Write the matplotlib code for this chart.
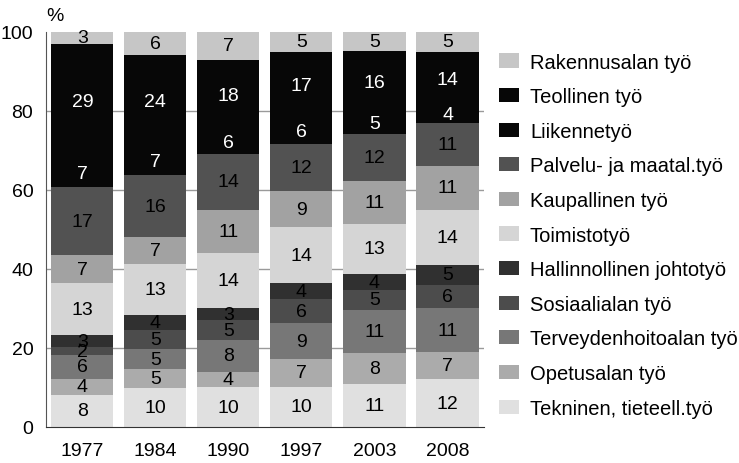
import numpy as np
import pandas as pd
import matplotlib
matplotlib.use("Agg")
import matplotlib.pyplot as plt
from matplotlib.patches import Patch

plt.rcParams['font.family'] = ['Liberation Sans Narrow', 'Liberation Sans', 'DejaVu Sans']

# Data (labels as printed in the bars, bottom to top)
years = ["1977", "1984", "1990", "1997", "2003", "2008"]

categories = [
    "Tekninen, tieteell.työ",
    "Opetusalan työ",
    "Terveydenhoitoalan työ",
    "Sosiaalialan työ",
    "Hallinnollinen johtotyö",
    "Toimistotyö",
    "Kaupallinen työ",
    "Palvelu- ja maatal.työ",
    "Liikennetyö",
    "Teollinen työ",
    "Rakennusalan työ",
]

tekninen = [8, 10, 10, 10, 11, 12]
opetus = [4, 5, 4, 7, 8, 7]
terveys = [6, 5, 8, 9, 11, 11]
sosiaali = [2, 5, 5, 6, 5, 6]
hallinto = [3, 4, 3, 4, 4, 5]
toimisto = [13, 13, 14, 14, 13, 14]
kaupallinen = [7, 7, 11, 9, 11, 11]
palvelu = [17, 16, 14, 12, 12, 11]
liikenne = [7, 7, 6, 6, 5, 4]
teollinen = [29, 24, 18, 17, 16, 14]
rakennus = [3, 6, 7, 5, 5, 5]

colors = ["#e0e0e0", "#ababab", "#777777", "#4c4c4c", "#303030", "#d5d5d5",
          "#a2a2a2", "#525252", "#070707", "#070707", "#c6c6c6"]
text_colors = ["black"] * 8 + ["white", "white", "black"]

df = pd.DataFrame([tekninen, opetus, terveys, sosiaali, hallinto, toimisto,
                   kaupallinen, palvelu, liikenne, teollinen, rakennus],
                  index=categories, columns=years)

# bars are drawn as shares of 100 (printed values are rounded)
shares = df / df.sum() * 100

fig = plt.figure(figsize=(7.39, 4.64), dpi=100)
ax = fig.add_axes([0.062, 0.078, 0.593, 0.851])

x = np.arange(len(years))
bottom = np.zeros(len(years))
for i, cat in enumerate(categories):
    h = shares.loc[cat].values
    ax.bar(x, h, width=0.85, bottom=bottom, color=colors[i], linewidth=0, zorder=2)
    for j in range(len(years)):
        ax.text(x[j], bottom[j] + h[j] / 2, str(df.loc[cat].iloc[j]),
                ha="center", va="center", fontsize=14, color=text_colors[i], zorder=3)
    bottom += h

ax.set_xlim(-0.5, 5.5)
ax.set_ylim(0, 100)
ax.set_yticks([0, 20, 40, 60, 80, 100])
ax.set_xticks(x)
ax.set_xticklabels(years)
ax.tick_params(axis="both", length=0, labelsize=14)
ax.tick_params(axis="y", pad=9)
ax.tick_params(axis="x", pad=11)
for y in [20, 40, 60, 80]:
    ax.axhline(y, color="#9a9a9a", linewidth=1, zorder=1)
for s in ["top", "right"]:
    ax.spines[s].set_visible(False)
ax.spines["left"].set_color("#555555")
ax.spines["bottom"].set_color("#333333")

fig.text(0.074, 0.965, "%", fontsize=14, ha="center", va="center")

handles = [Patch(facecolor=colors[i], edgecolor="none") for i in range(len(categories))][::-1]
fig.legend(handles, categories[::-1], loc="upper left", bbox_to_anchor=(0.664, 0.902),
           frameon=False, fontsize=14.5, handlelength=1.0, handleheight=0.7,
           handletextpad=0.55, labelspacing=0.775, borderaxespad=0)

fig.savefig("out.png", dpi=100)
